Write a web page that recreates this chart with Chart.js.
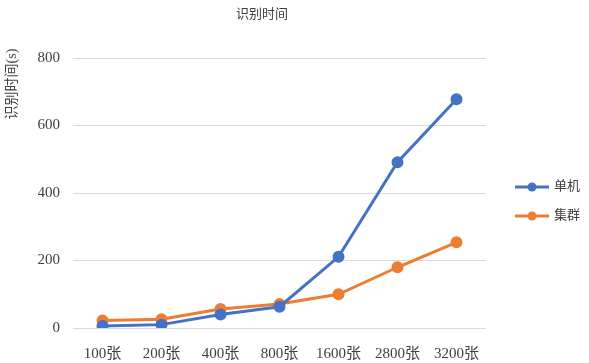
<!DOCTYPE html>
<html>
<head>
<meta charset="utf-8">
<script src="https://cdn.jsdelivr.net/npm/chart.js@4"></script>
<style>
  html, body { margin: 0; padding: 0; background: #fff; }
  #wrap { width: 589px; height: 363px; }
</style>
</head>
<body>
<div id="wrap"><canvas id="timeChart"></canvas></div>
<script>
const categories = ["100张", "200张", "400张", "800张", "1600张", "2800张", "3200张"];
const singleTimes = [6, 10, 40, 63, 211, 491, 678];
const clusterTimes = [22, 26, 56, 71, 100, 180, 254];
const seriesNames = ["单机", "集群"];
const seriesColors = ["#4472C4", "#ED7D31"];
const chartTitle = "识别时间";
const yTitle = "识别时间(s)";

const serif = "'Liberation Serif', 'Noto Sans CJK SC', serif";
const textColor = "#404040";

// title, y title and right legend drawn by hand so they sit where the office chart puts them
const decorations = {
    id: "decorations",
    afterDraw(chart) {
        const ctx = chart.ctx;
        ctx.save();
        ctx.fillStyle = textColor;
        ctx.textBaseline = "middle";

        ctx.font = "13px " + serif;
        ctx.textAlign = "center";
        ctx.fillText(chartTitle, 262, 15);

        ctx.save();
        ctx.translate(12, 84);
        ctx.rotate(-Math.PI / 2);
        ctx.font = "14px " + serif;
        ctx.fillText(yTitle, 0, 0);
        ctx.restore();

        const x = 515;
        const rows = [187, 216];
        ctx.textAlign = "left";
        chart.data.datasets.forEach((ds, i) => {
            const y = rows[i];
            ctx.strokeStyle = ds.borderColor;
            ctx.lineWidth = 3;
            ctx.beginPath();
            ctx.moveTo(x, y);
            ctx.lineTo(x + 34, y);
            ctx.stroke();
            ctx.fillStyle = ds.borderColor;
            ctx.beginPath();
            ctx.arc(x + 17, y, 4.5, 0, Math.PI * 2);
            ctx.fill();
            ctx.fillStyle = textColor;
            ctx.font = "13px " + serif;
            ctx.fillText(ds.label, x + 39, y);
        });
        ctx.restore();
    }
};

const ctx = document.getElementById("timeChart").getContext("2d");
new Chart(ctx, {
    type: "line",
    data: {
        labels: categories,
        datasets: [
            {
                label: seriesNames[0],
                data: singleTimes,
                borderColor: seriesColors[0],
                backgroundColor: seriesColors[0],
                borderWidth: 3,
                pointRadius: 4.5,
                tension: 0
            },
            {
                label: seriesNames[1],
                data: clusterTimes,
                borderColor: seriesColors[1],
                backgroundColor: seriesColors[1],
                borderWidth: 3,
                pointRadius: 4.5,
                tension: 0
            }
        ]
    },
    options: {
        responsive: true,
        maintainAspectRatio: false,
        animation: false,
        layout: { padding: { top: 58, right: 103, left: 38, bottom: 0 } },
        plugins: {
            legend: { display: false },
            tooltip: { enabled: false },
            title: { display: false }
        },
        scales: {
            x: {
                offset: true,
                afterFit(scale) { scale.height = 35; },
                grid: { display: false },
                border: { display: false },
                ticks: {
                    color: textColor,
                    font: { size: 15, family: serif },
                    maxRotation: 0,
                    autoSkip: false,
                    padding: 9
                }
            },
            y: {
                min: 0,
                max: 800,
                afterFit(scale) { scale.width = 35; },
                ticks: {
                    stepSize: 200,
                    color: textColor,
                    font: { size: 15, family: serif },
                    padding: 13
                },
                grid: { color: "#d9d9d9", lineWidth: 1, drawTicks: false },
                border: { display: false }
            }
        }
    },
    plugins: [decorations]
});
</script>
</body>
</html>
